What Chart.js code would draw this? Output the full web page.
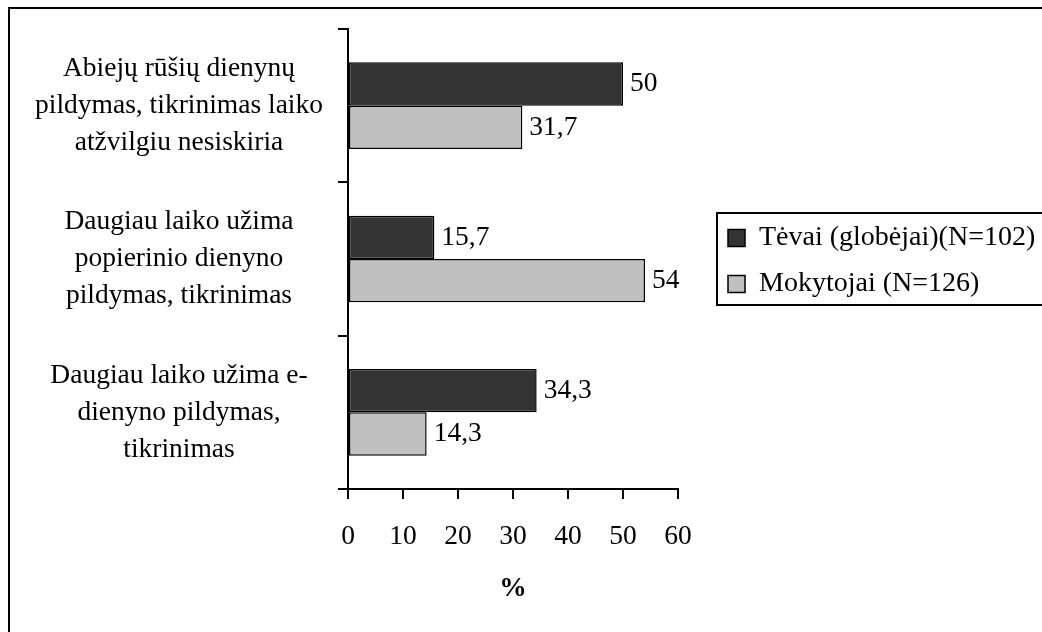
<!DOCTYPE html>
<html>
<head>
<meta charset="utf-8">
<script src="https://cdn.jsdelivr.net/npm/chart.js@4"></script>
<style>
html,body{margin:0;padding:0;background:#fff;}
#wrap{width:1042px;height:632px;position:relative;}
</style>
</head>
<body>
<div id="wrap"><canvas id="c" width="1042" height="632"></canvas></div>
<script>
// ---- data ----
const categories = [
  ['Abiejų rūšių dienynų', 'pildymas, tikrinimas laiko', 'atžvilgiu nesiskiria'],
  ['Daugiau laiko užima', 'popierinio dienyno', 'pildymas, tikrinimas'],
  ['Daugiau laiko užima e-', 'dienyno pildymas,', 'tikrinimas']
];
const seriesNames = ['Tėvai (globėjai)(N=102)', 'Mokytojai (N=126)'];
const parentsValues = [50, 15.7, 34.3];
const teachersValues = [31.7, 54, 14.3];
const xTicks = [0, 10, 20, 30, 40, 50, 60];
const xAxisTitle = '%';

// ---- styling / layout ----
const FONT = '"Liberation Serif", "Times New Roman", serif';
const FS = 27.5;
const PAD = { left: 30, right: 0, top: 29, bottom: 29.5 };
const Y_AXIS_WIDTH = 318;   // room for the category labels
const LEGEND_WIDTH = 364;   // space right of the plot
const LEGEND_GAP = 32;      // extra gap before legend items

Chart.defaults.font.family = FONT;
Chart.defaults.font.size = FS;
Chart.defaults.color = '#000';

const framePlugin = {
  id: 'frame',
  beforeDraw(chart) {
    const ctx = chart.ctx;
    ctx.save();
    ctx.fillStyle = '#fff';
    ctx.fillRect(0, 0, chart.width, chart.height);
    ctx.strokeStyle = '#000';
    ctx.lineWidth = 2;
    ctx.beginPath();
    ctx.moveTo(9, chart.height + 2);
    ctx.lineTo(9, 8);
    ctx.lineTo(chart.width + 2, 8);
    ctx.stroke();
    ctx.restore();
  }
};

const legendPlugin = {
  id: 'legendFrame',
  afterInit(chart) {
    const lg = chart.legend;
    if (!lg || lg._patched) return;
    const origFit = lg.fit;
    lg.fit = function () {
      origFit.call(this);
      this.width = LEGEND_WIDTH;
    };
    lg._patched = true;
  },
  afterLayout(chart) {
    const lg = chart.legend;
    lg.left += LEGEND_GAP;
    lg.right += LEGEND_GAP;
    lg.top += 2;
    lg.bottom += 2;
  },
  afterDraw(chart) {
    const lg = chart.legend;
    const hb = lg.legendHitBoxes;
    if (!hb || !hb.length) return;
    const first = hb[0], last = hb[hb.length - 1];
    const left = first.left - 11;
    const top = first.top - 11;
    const bottom = last.top + last.height + 7;
    const ctx = chart.ctx;
    ctx.save();
    ctx.strokeStyle = '#000';
    ctx.lineWidth = 2;
    ctx.beginPath();
    ctx.moveTo(chart.width + 2, top);
    ctx.lineTo(left, top);
    ctx.lineTo(left, bottom);
    ctx.lineTo(chart.width + 2, bottom);
    ctx.stroke();
    ctx.restore();
  }
};

const valueLabels = {
  id: 'valueLabels',
  afterDatasetsDraw(chart) {
    const ctx = chart.ctx;
    ctx.save();
    ctx.font = FS + 'px ' + FONT;
    ctx.fillStyle = '#000';
    ctx.textAlign = 'left';
    ctx.textBaseline = 'middle';
    chart.data.datasets.forEach((ds, i) => {
      const meta = chart.getDatasetMeta(i);
      meta.data.forEach((bar, j) => {
        const txt = String(ds.data[j]).replace('.', ',');
        ctx.fillText(txt, bar.x + 7, bar.y);
      });
    });
    ctx.restore();
  }
};

new Chart(document.getElementById('c'), {
  type: 'bar',
  data: {
    labels: categories,
    datasets: [
      {
        label: seriesNames[0],
        data: parentsValues,
        backgroundColor: '#333333',
        borderColor: '#000',
        borderWidth: 1.5,
        borderSkipped: false,
        barPercentage: 1,
        categoryPercentage: 0.565
      },
      {
        label: seriesNames[1],
        data: teachersValues,
        backgroundColor: '#c0c0c0',
        borderColor: '#000',
        borderWidth: 1.5,
        borderSkipped: false,
        barPercentage: 1,
        categoryPercentage: 0.565
      }
    ]
  },
  options: {
    indexAxis: 'y',
    responsive: false,
    animation: false,
    devicePixelRatio: 1,
    layout: { padding: PAD },
    plugins: {
      legend: {
        position: 'right',
        fullSize: false,
        labels: {
          boxWidth: 17,
          boxHeight: 17,
          padding: 18,
          color: '#000',
          font: { size: 28 }
        }
      },
      tooltip: { enabled: false },
      title: { display: false }
    },
    scales: {
      x: {
        type: 'linear',
        position: 'bottom',
        min: xTicks[0],
        max: xTicks[xTicks.length - 1],
        afterBuildTicks: s => { s.ticks = xTicks.map(v => ({ value: v })); },
        afterFit: s => { s.paddingLeft = 0; s.paddingRight = 0; },
        ticks: { padding: 21.5, color: '#000', maxRotation: 0, autoSkip: false, font: { size: FS } },
        grid: { drawOnChartArea: false, drawTicks: true, tickLength: 10, color: '#000', lineWidth: 2 },
        border: { color: '#000', width: 2 },
        title: {
          display: true,
          text: xAxisTitle,
          color: '#000',
          font: { size: FS, weight: 'bold', lineHeight: 1 },
          padding: { top: 0, bottom: 0 }
        }
      },
      y: {
        type: 'category',
        afterFit: s => { s.width = Y_AXIS_WIDTH; s.paddingTop = 0; s.paddingBottom = 0; },
        ticks: { crossAlign: 'center', padding: 15, color: '#000', autoSkip: false, font: { size: FS, lineHeight: 1.345 } },
        grid: { drawOnChartArea: false, drawTicks: true, tickLength: 10, color: '#000', lineWidth: 2, offset: true },
        border: { color: '#000', width: 2 }
      }
    }
  },
  plugins: [framePlugin, legendPlugin, valueLabels]
});
</script>
</body>
</html>
